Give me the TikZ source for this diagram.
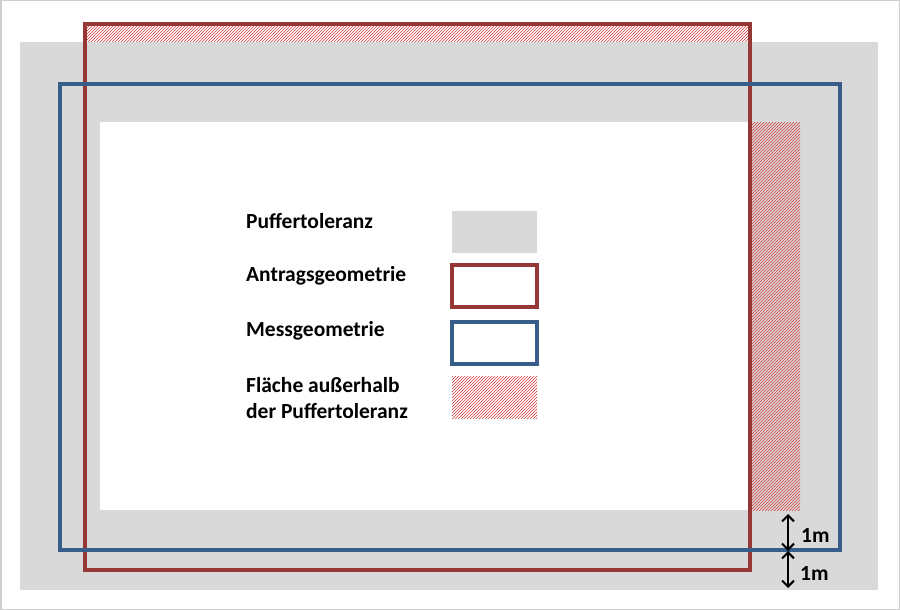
\documentclass[tikz,border=0pt]{standalone}
\usepackage{fontspec}
\setmainfont{Carlito}
\usetikzlibrary{patterns,arrows.meta}
\definecolor{bufgray}{RGB}{217,217,217}
\definecolor{redg}{RGB}{149,55,53}
\definecolor{blueg}{RGB}{56,93,138}
\definecolor{hatch}{RGB}{215,60,60}
\begin{document}
\begin{tikzpicture}[x=1pt,y=-1pt,
  lbl/.style={anchor=west,font=\bfseries\fontsize{21.5}{26}\selectfont,align=left,inner sep=0pt},
  hatchbox/.style={pattern=north east lines,pattern color=hatch,draw=none},
  geom/.style={line width=3.5pt},
  dimarrow/.style={{Straight Barb[length=6pt,width=12pt]}-{Straight Barb[length=6pt,width=12pt]},line width=2pt}]
\path[use as bounding box,draw=bufgray!80!black!60,line width=1.5pt,fill=white] (0.75,0.75) rectangle (899.25,609.25);
\fill[bufgray] (20,42) rectangle (878,590);
\fill[white] (100,122) rectangle (752,510);
\path[hatchbox] (752,122) rectangle (800,510);
\path[hatchbox] (85,24) rectangle (750,42);
\draw[redg,geom] (85,24) rectangle (750,570);
\draw[blueg,geom] (60,84) rectangle (840,550);
% legend
\node[lbl] (t1) at (246,221) {Puffertoleranz};
\node[lbl] (t2) at (246,276) {Antragsgeometrie};
\node[lbl] (t3) at (246,331) {Messgeometrie};
\node[lbl] (t4) at (246,398) {Fläche außerhalb\\der Puffertoleranz};
\fill[bufgray] (452,211) rectangle (537,253);
\draw[redg,geom] (452,265) rectangle (537,307);
\draw[blueg,geom] (452,322) rectangle (537,364);
\path[hatchbox] (452,376) rectangle (537,418);
% dimension arrows
\coordinate (a1) at (788,514);
\coordinate (a2) at (788,551);
\coordinate (a3) at (788,588);
\draw[dimarrow] (a1) -- (a2);
\draw[dimarrow] (a2) -- (a3);
\node[lbl] (m1) at (801,536) {1m};
\node[lbl] (m2) at (800,574) {1m};
\end{tikzpicture}
\end{document}
